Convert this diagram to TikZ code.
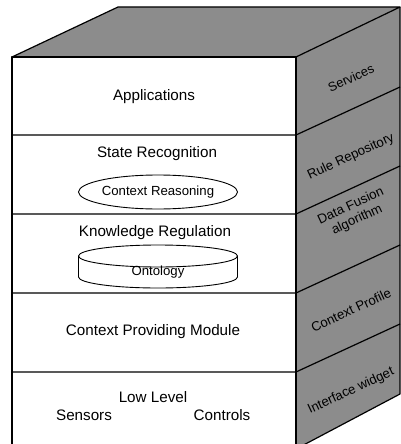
\documentclass[tikz,border=0pt]{standalone}
\usepackage{fontspec}
\setmainfont{Liberation Sans}
\usetikzlibrary{shapes.geometric}
\definecolor{sidegray}{RGB}{140,140,140}
\begin{document}
\begin{tikzpicture}[x=1pt,y=-1pt,line join=round,
  edge/.style={draw=black,line width=1.2pt},
  thinedge/.style={draw=black,line width=0.9pt},
  lbl/.style={font=\fontsize{15.2}{18}\selectfont,inner sep=0pt},
  smalllbl/.style={font=\fontsize{13.2}{15}\selectfont,inner sep=0pt},
  sidelbl/.style={font=\fontsize{13.2}{15}\selectfont,rotate=25,align=center,inner sep=0pt}]
\useasboundingbox (0,0) rectangle (401,444);
\clip (0,0) rectangle (401,444);
% top face and right face
\fill[sidegray] (12,57) -- (118,7) -- (400,7) -- (296,57) -- cycle;
\fill[sidegray] (296,57) -- (400,7) -- (400,394) -- (296,449) -- cycle;
\draw[edge] (12,57) -- (118,7) -- (400,7) -- (296,57) -- cycle;
\draw[edge] (400,7) -- (400,394) -- (296,449);
% front face
\draw[edge,fill=white] (12,57) rectangle (296,450);
% dividers
\foreach \yy in {135,214,293,372}{
  \draw[edge] (12,\yy) -- (296,\yy) -- (400,\yy-48);
}
% front texts
\node[lbl] (app) at (154,97) {Applications};
\node[lbl] (sr) at (157,154) {State Recognition};
\node[ellipse,thinedge,minimum width=159pt,minimum height=34pt,inner sep=0pt,
      font=\fontsize{13.2}{15}\selectfont] (cr) at (158,192) {Context Reasoning};
\node[lbl] (kr) at (155,233) {Knowledge Regulation};
% cylinder
\draw[thinedge] (158,256) ellipse [x radius=79.5, y radius=11];
\draw[thinedge] (78.5,256) -- (78.5,277) arc[start angle=180,end angle=0,x radius=79.5,y radius=11] -- (237.5,256);
\node[smalllbl] (onto) at (158,272) {Ontology};
\node[lbl] (cpm) at (153,332) {Context Providing Module};
\node[lbl] (ll) at (153,397) {Low Level};
\node[lbl] (sens) at (84,415) {Sensors};
\node[lbl] (ctrl) at (222,415) {Controls};
% side labels
\node[sidelbl,font=\fontsize{12.8}{15}\selectfont] (serv) at (351,78) {Services};
\node[sidelbl] (rule) at (351,157) {Rule Repository};
\node[sidelbl] (dfa) at (354,213) {Data Fusion\\algorithm};
\node[sidelbl] (cprof) at (351,310) {Context Profile};
\node[sidelbl] (iw) at (351,391) {Interface widget};
\end{tikzpicture}
\end{document}
